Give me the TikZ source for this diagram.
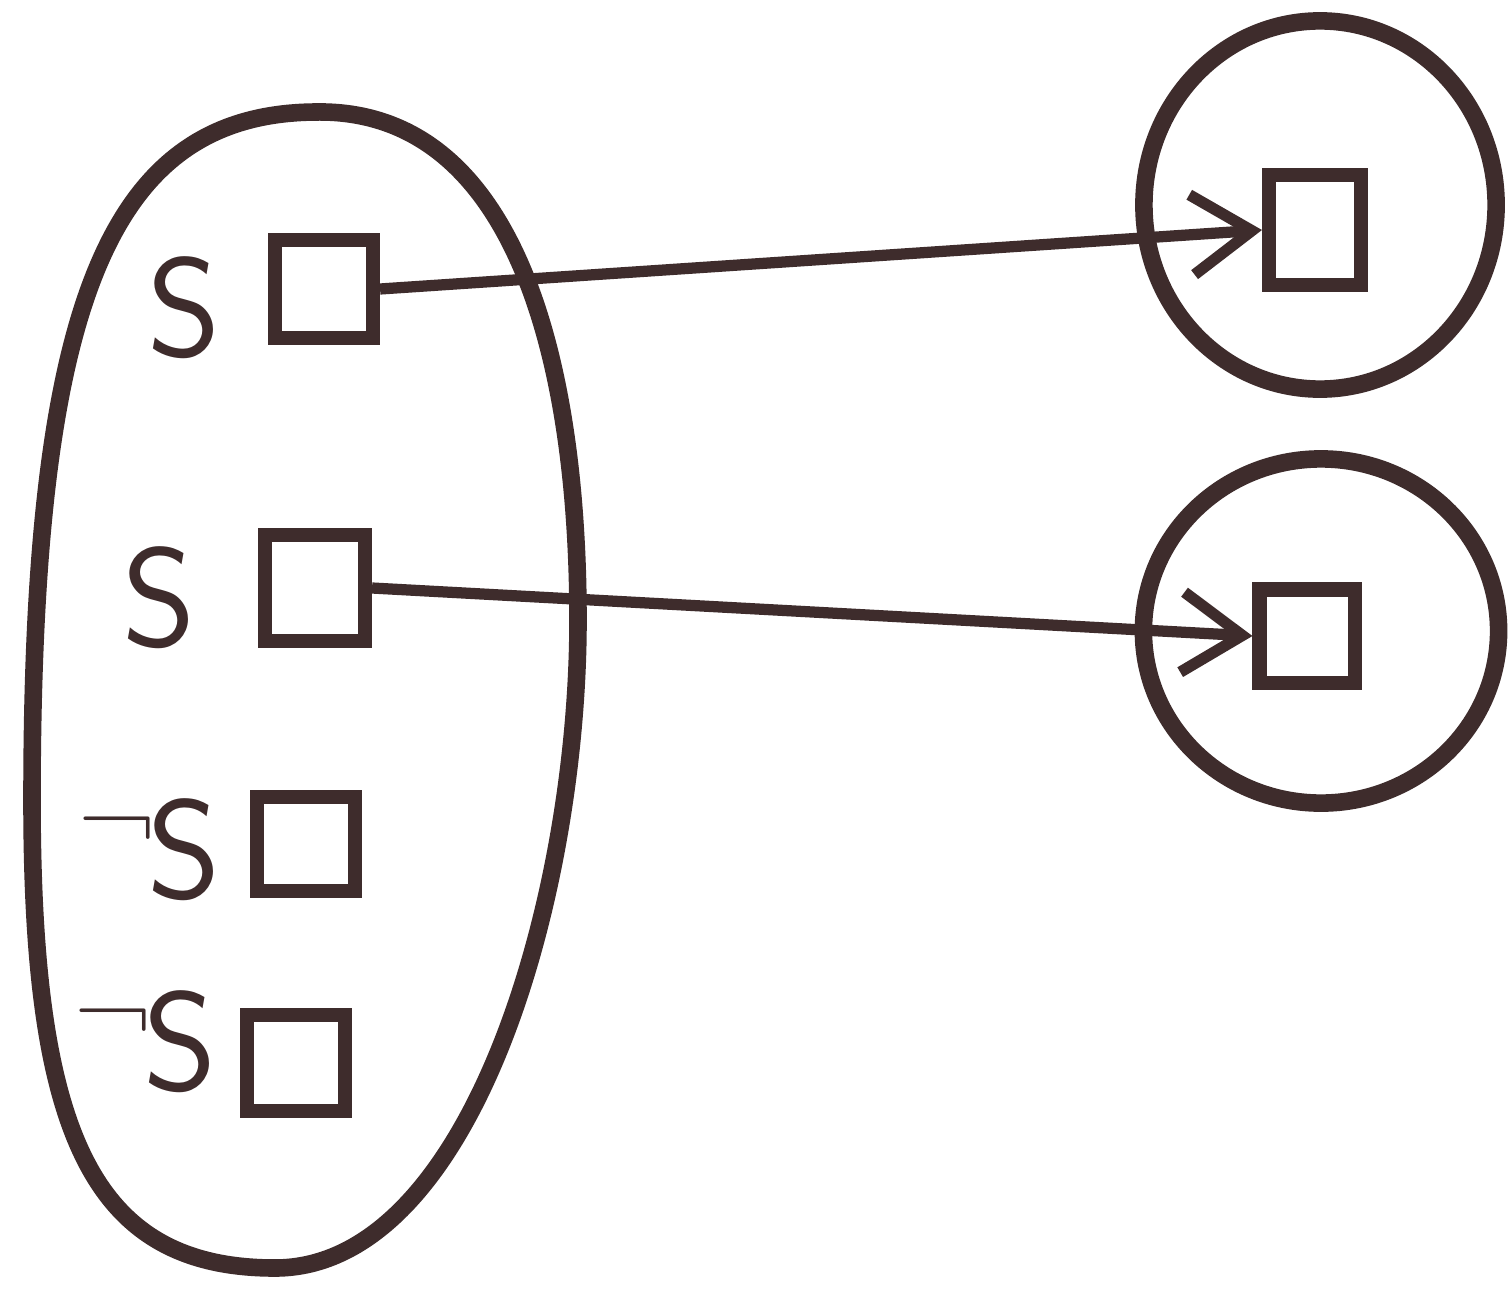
\documentclass[tikz,border=0pt]{standalone}
\usetikzlibrary{shapes.geometric,arrows.meta}
\definecolor{ink}{RGB}{62,44,44}
\newcommand{\negsym}{{\fontsize{30}{30}\selectfont\raisebox{0.42em}{¬}}\kern-0.06em}
\begin{document}
\begin{tikzpicture}[x=0.01cm,y=-0.01cm,
  outline/.style={draw=ink,line width=5pt},
  blob/.style={draw=ink,line width=5pt,ellipse,inner sep=0pt},
  box/.style={draw=ink,line width=4pt,inner sep=0pt},
  lab/.style={text=ink,font=\sffamily\fontsize{40}{40}\selectfont,inner sep=0pt},
  link/.style={draw=ink,line width=3.2pt,-{Straight Barb[length=6mm,width=8mm]}}]
\useasboundingbox[fill=white] (0,0) rectangle (1510,1294);
% domain outline
\draw[outline] (315,112) .. controls (515,108) and (578,360) .. (578,620)
  .. controls (578,900) and (470,1268) .. (275,1268)
  .. controls (90,1268) and (32,1130) .. (32,800)
  .. controls (32,300) and (110,114) .. cycle;
\node[blob,minimum width=3.52cm,minimum height=3.68cm] (c1) at (1320,205) {};
\node[blob,minimum width=3.55cm,minimum height=3.44cm] (c2) at (1321,631) {};
\node[box,minimum width=0.98cm,minimum height=0.98cm] (s1) at (324,289) {};
\node[box,minimum width=1.0cm,minimum height=1.06cm] (s2) at (315,588) {};
\node[box,minimum width=0.98cm,minimum height=0.94cm] (s3) at (306,844) {};
\node[box,minimum width=0.98cm,minimum height=0.96cm] (s4) at (296,1063) {};
\node[box,minimum width=0.92cm,minimum height=1.1cm] (t1) at (1315,230) {};
\node[box,minimum width=0.95cm,minimum height=0.93cm] (t2) at (1307,636) {};
\node[lab] (l1) at (184,308) {S};
\node[lab] (l2) at (159,598) {S};
\node[lab] (l3) at (150,850) {\negsym S};
\node[lab] (l4) at (146,1042) {\negsym S};
\draw[link] (s1.east) -- (t1.west);
\draw[link] (s2.east) -- (t2.west);
\end{tikzpicture}
\end{document}
